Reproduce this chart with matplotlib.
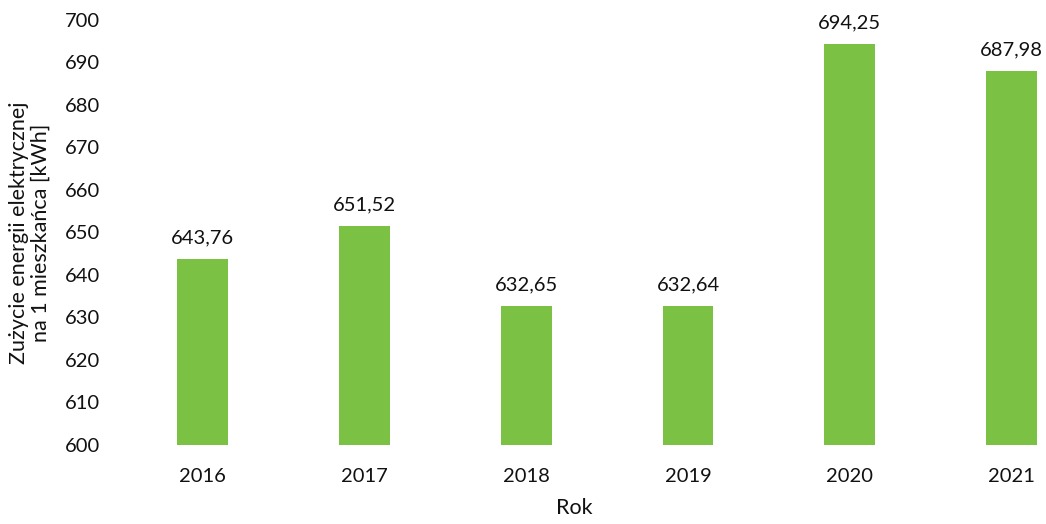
import matplotlib.pyplot as plt
import numpy as np

plt.rcParams['font.family'] = ['Lato', 'DejaVu Sans']

years = ["2016", "2017", "2018", "2019", "2020", "2021"]
values = [643.76, 651.52, 632.65, 632.64, 694.25, 687.98]
value_labels = ["643,76", "651,52", "632,65", "632,64", "694,25", "687,98"]
yticks = [600, 610, 620, 630, 640, 650, 660, 670, 680, 690, 700]

fig = plt.figure(figsize=(10.46, 5.24), dpi=100)
ax = fig.add_axes([0.101, 0.151, 0.897, 0.811])

x = np.arange(len(years))
ax.bar(x, np.array(values) - 600, bottom=600, width=0.315, color="#7bc143")

for xi, v, lab in zip(x, values, value_labels):
    ax.text(xi, v + 3, lab, ha="center", va="bottom", fontsize=14.5, color="#111111")

ax.set_xlim(-0.6, 5.2)
ax.set_ylim(600, 700)
ax.set_yticks(yticks)
ax.set_yticklabels([str(t) for t in yticks])
ax.set_xticks(x)
ax.set_xticklabels(years)
ax.tick_params(axis="both", length=0, labelsize=14.5, colors="#111111")
ax.tick_params(axis="x", pad=17)
ax.tick_params(axis="y", pad=4)
for s in ax.spines.values():
    s.set_visible(False)

ax.set_xlabel("Rok", fontsize=15.5, color="#111111", labelpad=9)
ax.set_ylabel("Zużycie energii elektrycznej\nna 1 mieszkańca [kWh]", fontsize=15.5,
              color="#111111", labelpad=10, linespacing=1.15)

plt.savefig("out.png", dpi=100)
